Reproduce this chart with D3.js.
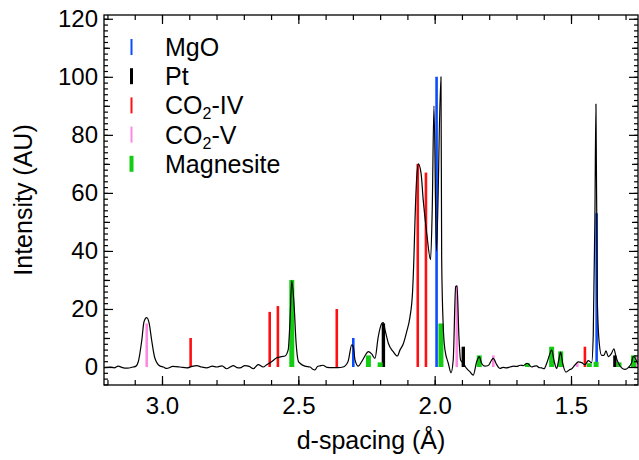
<!DOCTYPE html>
<html>
<head>
<meta charset="utf-8">
<script src="https://cdn.jsdelivr.net/npm/d3@7"></script>
<style>
  html, body { margin: 0; padding: 0; background: #fff; }
  svg text { font-family: "Liberation Sans", Arial, Helvetica, sans-serif; fill: #000; }
</style>
</head>
<body>
<svg id="chart" width="639" height="460"></svg>
<script>
// Measured pattern: [d-spacing (Å), intensity]
const pattern = [
  [3.213, -0.2], [3.19, 0], [3.175, -0.3], [3.161, 0.3], [3.145, -0.2], [3.128, -0.4],
  [3.106, 0], [3.095, 0.3], [3.087, 1.8], [3.074, 9.3], [3.066, 15.6], [3.056, 17],
  [3.047, 15], [3.038, 9.3], [3.026, 3], [3.007, 0.3], [2.995, 0], [2.983, -0.5],
  [2.96, 0.2], [2.934, 0], [2.909, -0.3], [2.89, 0.2], [2.873, 0.5], [2.855, 0],
  [2.836, -0.3], [2.815, 0.3], [2.799, 0], [2.78, 0.4], [2.763, -0.6], [2.75, 0],
  [2.739, 0.5], [2.725, -0.2], [2.714, -0.3], [2.696, 0.5], [2.68, 0.2], [2.665, -0.6],
  [2.647, 0.8], [2.629, 0], [2.616, 0.8], [2.598, 1.8], [2.579, 3.2], [2.561, 3.6],
  [2.549, 3.8], [2.537, 6], [2.531, 15], [2.524, 29.7], [2.516, 22], [2.508, 8],
  [2.5, 2], [2.494, 1.3], [2.476, 0.3], [2.457, 0], [2.447, -0.8], [2.439, -1],
  [2.43, 0.2], [2.421, 0.4], [2.41, 0.6], [2.395, -0.1], [2.375, -0.2], [2.355, -0.2],
  [2.336, 0], [2.318, 1.8], [2.304, 7.6], [2.2985, 7], [2.292, 2.4], [2.28, 0.3],
  [2.268, 1.8], [2.256, 3.8], [2.2435, 5.3], [2.231, 4.5], [2.219, 3], [2.207, 10.4],
  [2.194, 15], [2.1885, 15.3], [2.182, 12.8], [2.17, 8.2], [2.152, 5.3], [2.137, 3.8],
  [2.127, 5.9], [2.115, 8], [2.103, 12], [2.091, 17], [2.081, 26], [2.076, 38],
  [2.072, 51], [2.066, 65], [2.06, 70], [2.05, 66.8], [2.042, 57.6], [2.029, 46],
  [2.015, 37], [2.009, 54], [2.0026, 90], [1.9934, 40], [1.9769, 100], [1.9743, 37],
  [1.9685, 13.9], [1.9622, 5.9], [1.95, 1.3], [1.94, -2], [1.932, 2.4], [1.923, 27.7],
  [1.918, 28], [1.911, 10.4], [1.905, 2.4], [1.895, 1.3], [1.883, -0.5], [1.871, -1.6],
  [1.8585, -2.8], [1.846, 1.8], [1.8365, 3.6], [1.828, 1.3], [1.816, 0.3], [1.8035, 0.5],
  [1.791, 2.4], [1.785, 3], [1.773, 0.9], [1.761, -0.5], [1.749, -0.1], [1.737, -0.3],
  [1.724, 0], [1.71, 0.3], [1.699, 0.2], [1.687, 0.6], [1.675, 0.5], [1.6605, 1.3],
  [1.644, 0], [1.635, 0.3], [1.626, 0.4], [1.617, -0.2], [1.608, -0.3], [1.599, -0.6],
  [1.589, 1.3], [1.577, 4.7], [1.571, 5.9], [1.5614, 1.8], [1.5526, -0.5], [1.545, 2.4],
  [1.538, 5.1], [1.5306, 1.3], [1.5185, -1.8], [1.5064, -1], [1.496, -0.5], [1.4855, 0.7],
  [1.4734, 1.8], [1.4609, 1.5], [1.4488, 0.8], [1.4367, 2.2], [1.4242, 1.5], [1.4184, 11],
  [1.4125, 50], [1.4085, 90.6], [1.4037, 24], [1.3964, 8.2], [1.3876, 4], [1.3792, 4],
  [1.3719, 5.6], [1.3634, 3.6], [1.351, 4.8], [1.3426, 6.3], [1.3352, 3.6], [1.3268, 1.5],
  [1.3143, -0.3], [1.3022, -0.8], [1.2901, -0.2], [1.2777, 1.5], [1.2718, 3.7], [1.2545, 1]
];

// Reference peak positions: [d-spacing, relative intensity]
const mgoPeaks = [[2.2985, 10], [1.993, 100], [1.406, 53]];
const ptPeaks = [[2.188, 15], [1.895, 7], [1.339, 4]];
const co2IVPeaks = [[2.895, 10], [2.605, 19], [2.575, 21], [2.359, 20], [2.062, 70], [2.032, 67], [1.449, 7]];
const co2VPeaks = [[3.056, 15], [1.919, 28], [1.785, 4], [1.477, 1.3], [1.26, 4]];
const magnesitePeaks = [[2.524, 30], [2.243, 4], [2.2, 1.6], [1.977, 15], [1.8365, 4], [1.66, 1.3],
  [1.571, 7], [1.538, 5.4], [1.433, 1.3], [1.408, 1.8], [1.324, 1.6], [1.271, 4]];

const xMajorTicks = [3.0, 2.5, 2.0, 1.5];
const yMajorTicks = [0, 20, 40, 60, 80, 100, 120];

const phases = [
  { name: 'MgO', peaks: mgoPeaks, color: '#0a4cff', width: 2.6, legendWidth: 2 },
  { name: 'Pt', peaks: ptPeaks, color: '#000000', width: 3.4, legendWidth: 3 },
  { name: 'CO2-IV', peaks: co2IVPeaks, color: '#ff1010', width: 2.6, legendWidth: 2 },
  { name: 'CO2-V', peaks: co2VPeaks, color: '#ff88e0', width: 2.6, legendWidth: 2 },
  { name: 'Magnesite', peaks: magnesitePeaks, color: '#14cc14', width: 5, legendWidth: 4 }
];

const svg = d3.select('#chart');
const plotLeft = 104, plotRight = 638, plotTop = 15, plotBottom = 385;

const x = d3.scaleLinear().domain([3.2127, 1.2543]).range([plotLeft, plotRight]);
const y = d3.scaleLinear().domain([-6.2, 121.3]).range([plotBottom, plotTop]);

// Clip for everything inside the frame
svg.append('defs').append('clipPath').attr('id', 'plotClip')
  .append('rect').attr('x', plotLeft).attr('y', plotTop)
  .attr('width', plotRight - plotLeft).attr('height', plotBottom - plotTop);

const plot = svg.append('g').attr('clip-path', 'url(#plotClip)');

// Stick patterns
phases.forEach(p => {
  plot.append('g').selectAll('line')
    .data(p.peaks)
    .join('line')
    .attr('x1', d => x(d[0])).attr('x2', d => x(d[0]))
    .attr('y1', y(0)).attr('y2', d => y(d[1]))
    .attr('stroke', p.color)
    .attr('stroke-width', p.width);
});

// Measured pattern on top
const line = d3.line()
  .x(d => x(d[0]))
  .y(d => y(d[1]))
  .curve(d3.curveMonotoneX);

plot.append('path')
  .datum(pattern)
  .attr('d', line)
  .attr('fill', 'none')
  .attr('stroke', '#000')
  .attr('stroke-width', 1.2)
  .attr('stroke-linejoin', 'round');

// Axes (ticks pointing inward, mirrored on top/right)
const xMinor = d3.range(13, 33).map(i => i / 10);
const yMinor = d3.range(-6, 122, 2);
const yMid = d3.range(10, 121, 20);

function styleAxis(g) {
  g.select('.domain').remove();
  g.selectAll('.tick line').attr('stroke', '#000').attr('stroke-width', 1.2);
  g.selectAll('.tick text').style('font-size', '24px');
}

svg.append('g').attr('transform', `translate(0,${plotBottom})`)
  .call(d3.axisBottom(x).tickValues(xMinor).tickSize(-5).tickFormat('')).call(styleAxis);
svg.append('g').attr('transform', `translate(0,${plotBottom})`)
  .call(d3.axisBottom(x).tickValues(xMajorTicks).tickSize(-9).tickPadding(12)
    .tickFormat(d3.format('.1f'))).call(styleAxis);
svg.append('g').attr('transform', `translate(0,${plotTop})`)
  .call(d3.axisTop(x).tickValues(xMinor).tickSize(-5).tickFormat('')).call(styleAxis);
svg.append('g').attr('transform', `translate(0,${plotTop})`)
  .call(d3.axisTop(x).tickValues(xMajorTicks).tickSize(-9).tickFormat('')).call(styleAxis);

svg.append('g').attr('transform', `translate(${plotLeft},0)`)
  .call(d3.axisLeft(y).tickValues(yMinor).tickSize(-4).tickFormat('')).call(styleAxis);
svg.append('g').attr('transform', `translate(${plotLeft},0)`)
  .call(d3.axisLeft(y).tickValues(yMid).tickSize(-6).tickFormat('')).call(styleAxis);
svg.append('g').attr('transform', `translate(${plotLeft},0)`)
  .call(d3.axisLeft(y).tickValues(yMajorTicks).tickSize(-9).tickPadding(6)
    .tickFormat(d3.format('d'))).call(styleAxis);
svg.append('g').attr('transform', `translate(${plotRight},0)`)
  .call(d3.axisRight(y).tickValues(yMinor).tickSize(-4).tickFormat('')).call(styleAxis);
svg.append('g').attr('transform', `translate(${plotRight},0)`)
  .call(d3.axisRight(y).tickValues(yMid).tickSize(-6).tickFormat('')).call(styleAxis);
svg.append('g').attr('transform', `translate(${plotRight},0)`)
  .call(d3.axisRight(y).tickValues(yMajorTicks).tickSize(-9).tickFormat('')).call(styleAxis);

// Frame
svg.append('rect')
  .attr('x', plotLeft).attr('y', plotTop)
  .attr('width', plotRight - plotLeft).attr('height', plotBottom - plotTop)
  .attr('fill', 'none').attr('stroke', '#000').attr('stroke-width', 1.3);

// Axis titles
svg.append('text')
  .attr('x', (plotLeft + plotRight) / 2).attr('y', 449)
  .attr('text-anchor', 'middle')
  .style('font-size', '25px')
  .text('d-spacing (Å)');

svg.append('text')
  .attr('transform', `translate(32,${(plotTop + plotBottom) / 2}) rotate(-90)`)
  .attr('text-anchor', 'middle')
  .style('font-size', '25px')
  .text('Intensity (AU)');

// Legend
const legend = svg.append('g');
phases.forEach((p, i) => {
  const cy = 47 + i * 29.2;
  legend.append('line')
    .attr('x1', 131.5).attr('x2', 131.5)
    .attr('y1', cy - 8).attr('y2', cy + 8)
    .attr('stroke', p.color).attr('stroke-width', p.legendWidth);
  const t = legend.append('text')
    .attr('x', 165).attr('y', cy + 9)
    .style('font-size', '25px');
  const m = p.name.match(/^CO2(.*)$/);
  if (m) {
    t.append('tspan').text('CO');
    t.append('tspan').attr('dy', 5).style('font-size', '16px').text('2');
    t.append('tspan').attr('dy', -5).text(m[1]);
  } else {
    t.text(p.name);
  }
});
</script>
</body>
</html>
